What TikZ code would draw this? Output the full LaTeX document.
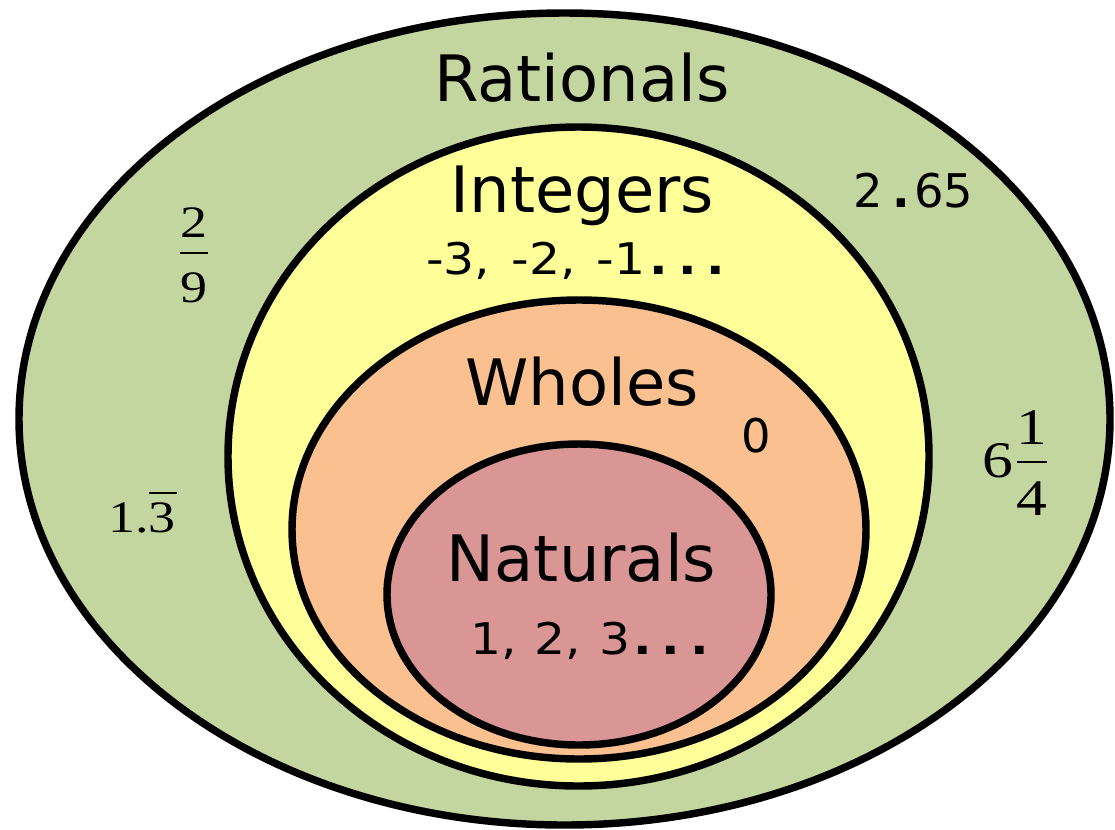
\documentclass[tikz,border=0pt]{standalone}
\usepackage{fontspec}
\setmainfont{DejaVu Sans}
\newfontfamily\serifnum{Liberation Serif}
\usepackage{tikz}
\usetikzlibrary{positioning}
\definecolor{ratgreen}{RGB}{196,214,160}
\definecolor{intyellow}{RGB}{255,255,153}
\definecolor{wholeorange}{RGB}{250,192,144}
\definecolor{natpink}{RGB}{217,150,148}
% square bold dots
\newcommand{\sqdots}{{\bfseries.\hspace{0.23em}.\hspace{0.23em}.}}
\tikzset{
    setline/.style={
        line width=5.3pt,
        draw=black
    },
    setname/.style={
        anchor=base,
        inner sep=0pt,
        font=\fontsize{45.5}{50}\selectfont
    },
    setnum/.style={
        anchor=base west,
        inner sep=0pt,
        font=\fontsize{31}{36}\selectfont\addfontfeature{FakeStretch=1.12}
    },
    ratnum/.style={
        anchor=base,
        inner sep=0pt,
        font=\serifnum\fontsize{32}{38}\selectfont\addfontfeature{FakeStretch=1.2}
    },
    fracbar/.style={
        line width=1.4pt,
        black
    }
}

\begin{document}
\begin{tikzpicture}[x=0.025cm,y=-0.025cm]
    \useasboundingbox (0,0) rectangle (1115,829);

    % ===================== sets =====================
    \draw[setline,fill=ratgreen] (564.5,419) ellipse [x radius=545.5, y radius=406];
    \draw[setline,fill=intyellow] (578.5,456.5) ellipse [x radius=350.5, y radius=329.5];
    \draw[setline,fill=wholeorange] (579,529.5) ellipse [x radius=287, y radius=229.5];
    \draw[setline,fill=natpink] (579,594.5) ellipse [x radius=192, y radius=150.5];

    % ===================== names =====================
    \node[setname] (rat) at (582,101) {Rationals};
    \node[setname] (int) at (582.5,212) {Integers};
    \node[setname] (who) at (582,405) {Wholes};
    \node[setname] (nat) at (581.5,581) {Naturals};

    % ===================== members =====================
    \node[setnum] (intex) at (426,274) {-3,\hspace{0.48em}-2,\hspace{0.48em}-1\hspace{0.1em}\sqdots};
    \node[setnum] (natex) at (470,654) {1,\hspace{0.4em}2,\hspace{0.42em}3\hspace{0.07em}\sqdots};
    \node[setnum,font=\fontsize{33}{38}\selectfont] (zero) at (741,452) {0};
    \node[setnum,font=\fontsize{33}{38}\selectfont] (decim) at (853,207) {2\hspace{0.2em}{\bfseries.}\hspace{0.1em}65};

    % 2/9
    \node[ratnum] (two) at (194,237) {2};
    \node[ratnum] (nine) at (194,302) {9};
    \draw[fracbar] (180,253) -- (208,253);
    % 1.3 repeating
    \node[ratnum] (repdec) at (142,532) {1.3};
    \draw[fracbar] (149,493) -- (177,493);
    % 6 1/4
    \node[ratnum,font=\serifnum\fontsize{36.5}{42}\selectfont\addfontfeature{FakeStretch=1.2}] (six) at (997.5,477) {6};
    \node[ratnum,font=\serifnum\fontsize{36.5}{42}\selectfont\addfontfeature{FakeStretch=1.2}] (one) at (1032,444) {1};
    \node[ratnum,font=\serifnum\fontsize{36.5}{42}\selectfont\addfontfeature{FakeStretch=1.2}] (four) at (1032,515) {4};
    \draw[fracbar] (1017,462) -- (1047,462);
\end{tikzpicture}
\end{document}
